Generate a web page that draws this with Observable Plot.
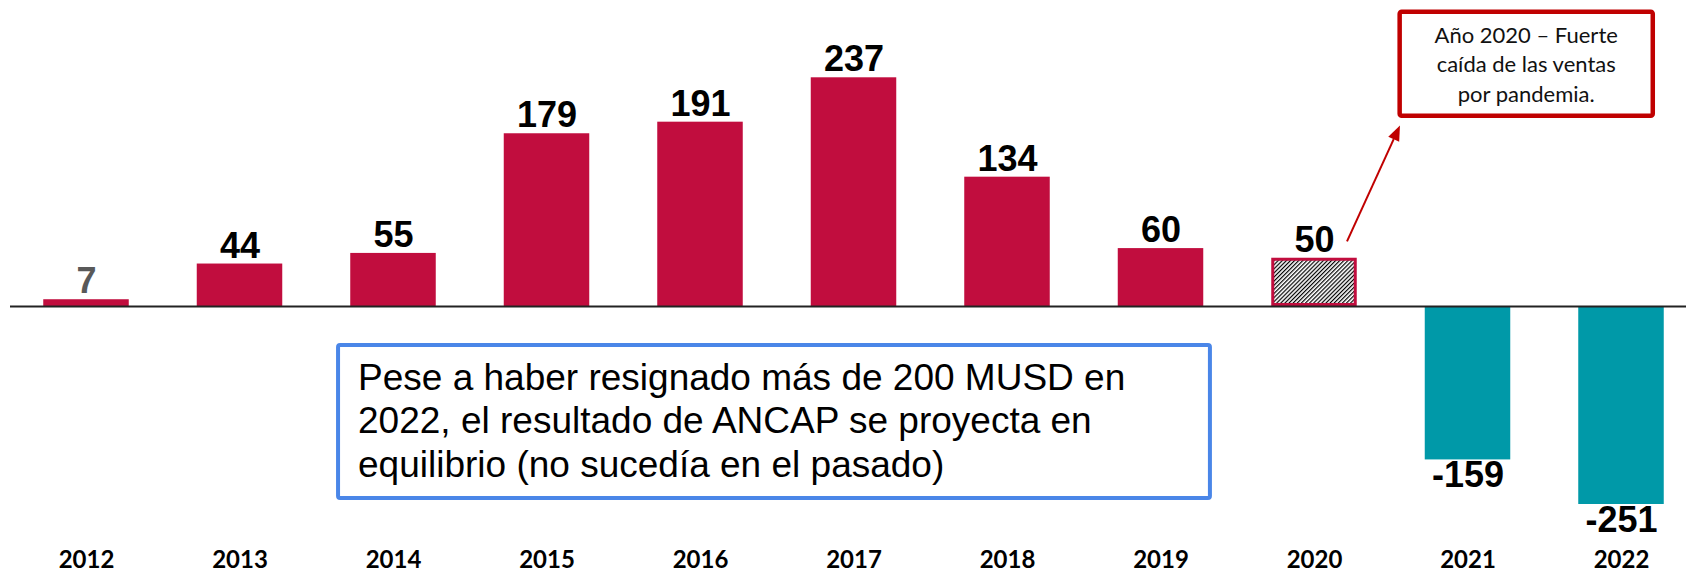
<!DOCTYPE html>
<html><head><meta charset="utf-8">
<script src="https://cdn.jsdelivr.net/npm/d3@7"></script>
<script src="https://cdn.jsdelivr.net/npm/@observablehq/plot@0.6"></script>
<style>
html,body{margin:0;padding:0;background:#fff;}
#chart svg{display:block;}
</style>
</head><body><div id="chart"></div>
<script>
// ---- data ----
const years  = ["2012","2013","2014","2015","2016","2017","2018","2019","2020","2021","2022"];
const values = [7, 44, 55, 179, 191, 237, 134, 60, 50, -159, -251];
const groups = ["normal","normal","normal","normal","normal","normal","normal","normal","pandemia","negativo","negativo"];
const labelColors = ["#595959","#000","#000","#000","#000","#000","#000","#000","#000","#000","#000"];

const noteRed  = ["Año 2020 – Fuerte", "caída de las ventas", "por pandemia."];
const noteBlue = ["Pese a haber resignado más de 200 MUSD en",
                  "2022, el resultado de ANCAP se proyecta en",
                  "equilibrio (no sucedía en el pasado)"];

const data = years.map((y, i) => ({year: y, value: values[i], group: groups[i], lc: labelColors[i]}));

const RED = "#C10D3E", TEAL = "#0099A8";

function annotations(index, scales) {
  const X = scales.x, Y = scales.y;
  const bw = typeof X.bandwidth === "function" ? X.bandwidth() : X.bandwidth;
  const step = typeof X.step === "function" ? X.step() : bw / (1 - 0.443);
  const cx = v => X(v) + bw / 2;
  const g = d3.create("svg:g");

  // arrow
  const ax1 = cx("2020") + 0.215 * step, ay1 = Y(67);
  const ax2 = cx("2021") - 0.44 * step, ay2 = Y(187);
  const ang = Math.atan2(ay2 - ay1, ax2 - ax1);
  const L = 15, W = 6;
  const bxA = ax2 - L * Math.cos(ang), byA = ay2 - L * Math.sin(ang);
  g.append("line").attr("x1", ax1).attr("y1", ay1).attr("x2", bxA).attr("y2", byA)
    .attr("stroke", "#C00000").attr("stroke-width", 2);
  g.append("path")
    .attr("d", `M${ax2},${ay2}L${bxA - W*Math.sin(ang)},${byA + W*Math.cos(ang)}L${bxA + W*Math.sin(ang)},${byA - W*Math.cos(ang)}Z`)
    .attr("fill", "#C00000");

  // red note box
  const rx1 = cx("2021") - 0.455 * step, rx2 = cx("2022") + 0.22 * step;
  const ry1 = Y(307), ry2 = Y(195);
  g.append("rect").attr("x", rx1 + 2).attr("y", ry1 + 2).attr("width", rx2 - rx1 - 4).attr("height", ry2 - ry1 - 4)
    .attr("rx", 2).attr("fill", "#fff").attr("stroke", "#C00000").attr("stroke-width", 4.5);
  noteRed.forEach((t, i) => {
    g.append("text").attr("x", (rx1 + rx2) / 2).attr("y", ry1 + 33.5 + i * 29.2)
      .attr("text-anchor", "middle").attr("font-family", "Lato, 'Open Sans', sans-serif")
      .attr("font-size", 22).attr("fill", "#111").text(t);
  });

  // blue note box
  const bx1 = cx("2014") - 0.371 * step, bx2 = cx("2019") + 0.335 * step;
  const by1 = Y(-38.3), by2 = Y(-201);
  g.append("rect").attr("x", bx1 + 2).attr("y", by1 + 2).attr("width", bx2 - bx1 - 4).attr("height", by2 - by1 - 4)
    .attr("rx", 2).attr("fill", "#fff").attr("stroke", "#4A86E8").attr("stroke-width", 4);
  noteBlue.forEach((t, i) => {
    g.append("text").attr("x", bx1 + 22).attr("y", by1 + 47 + i * 43.5)
      .attr("text-anchor", "start")
      .attr("font-family", "'Liberation Sans', Arial, sans-serif")
      .attr("font-size", 37).attr("fill", "#000").text(t);
  });
  return g.node();
}

const plot = Plot.plot({
  width: 1686,
  height: 571,
  marginTop: 0,
  marginBottom: 67,
  marginLeft: 10,
  marginRight: 0,
  style: {background: "#fff", overflow: "visible"},
  x: {domain: years, range: [27.9, 1679.1], paddingInner: 0.443, paddingOuter: 0.1, round: false, axis: null, label: null},
  y: {domain: [-205.2, 317.1], clamp: true, axis: null},
  marks: [
    Plot.barY(data.filter(d => d.group === "normal"), {x: "year", y: "value", fill: RED}),
    Plot.barY(data.filter(d => d.group === "negativo"), {x: "year", y: "value", fill: TEAL}),
    Plot.barY(data.filter(d => d.group === "pandemia"), {x: "year", y: "value", fill: "url(#hatch)", stroke: RED, strokeWidth: 3, inset: 1.5}),
    Plot.ruleY([0], {stroke: "#222", strokeWidth: 2}),
    Plot.text(data.filter(d => d.value >= 0), {x: "year", y: "value", text: d => String(d.value),
      fill: "lc", lineAnchor: "bottom", dy: -6.5, fontSize: 36, fontWeight: "bold",
      fontFamily: "'Liberation Sans', Arial, sans-serif"}),
    Plot.text(data.filter(d => d.value < 0), {x: "year", y: "value", text: d => String(d.value),
      fill: "lc", lineAnchor: "top", dy: 2, fontSize: 36, fontWeight: "bold",
      fontFamily: "'Liberation Sans', Arial, sans-serif"}),
    Plot.axisX({anchor: "bottom", tickSize: 0, tickPadding: 46, label: null, fontSize: 24, fontWeight: "bold",
      fontFamily: "Lato, 'Open Sans', sans-serif", color: "#000"}),
    annotations
  ]
});

// hatch pattern for the 2020 bar
const svg = d3.select(plot);
const defs = svg.insert("defs", ":first-child");
const pat = defs.append("pattern").attr("id", "hatch").attr("patternUnits", "userSpaceOnUse")
  .attr("width", 2.9).attr("height", 2.9).attr("patternTransform", "rotate(45)");
pat.append("rect").attr("width", 2.9).attr("height", 2.9).attr("fill", "#fff");
pat.append("line").attr("x1", 0.6).attr("y1", 0).attr("x2", 0.6).attr("y2", 2.9)
  .attr("stroke", "#000").attr("stroke-width", 1.2);

// make sure axis labels use the intended font
svg.selectAll('[aria-label="x-axis tick label"] text, [aria-label="x-axis tick label"]')
  .attr("font-family", "Lato, 'Open Sans', sans-serif").attr("font-weight", "bold").attr("font-size", 24).attr("fill", "#000");

document.getElementById("chart").appendChild(plot);
</script>
</body></html>
